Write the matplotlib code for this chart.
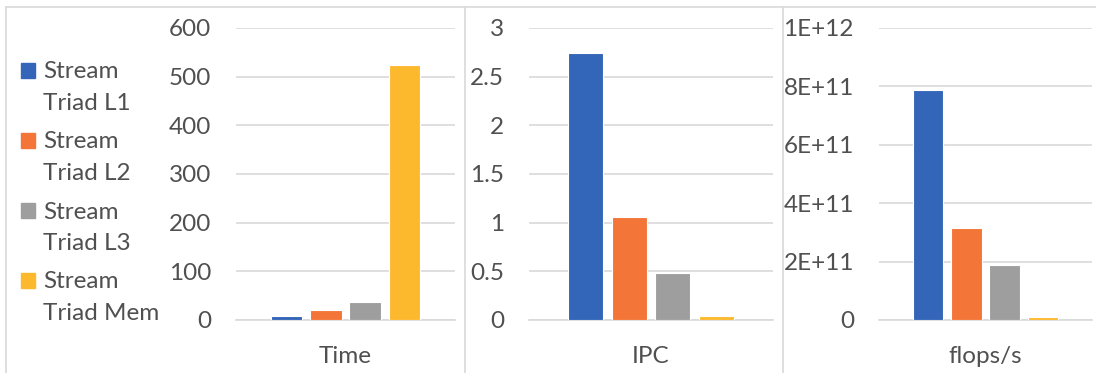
import matplotlib
matplotlib.use("Agg")
import matplotlib.pyplot as plt
from matplotlib.patches import Rectangle
from matplotlib.lines import Line2D
from matplotlib.ticker import FuncFormatter, MultipleLocator

# benchmark results, one value per series in each panel
series = ["Stream Triad L1", "Stream Triad L2", "Stream Triad L3", "Stream Triad Mem"]
colors = ["#3366B8", "#F37538", "#9E9E9E", "#FDB92E"]

time_vals = [8, 20, 37, 523]
ipc_vals = [2.74, 1.06, 0.486, 0.044]
flops_vals = [7.88e11, 3.14e11, 1.87e11, 1.1e10]

metrics = ["Time", "IPC", "flops/s"]

plt.rcParams["font.family"] = ["Lato", "DejaVu Sans"]
TXT = "#505050"
GRID = "#D9D9D9"
FS = 17.5

W, H = 1096, 373
fig = plt.figure(figsize=(W / 100, H / 100), dpi=100)


def px(x0, y0, x1, y1):
    # pixel box (top-left origin) -> figure fraction rect
    return [x0 / W, 1 - y1 / H, (x1 - x0) / W, (y1 - y0) / H]


panels = [
    (px(236, 28, 455, 320), time_vals, 600, 100, lambda v, p: f"{v:.0f}"),
    (px(529, 28, 773, 320), ipc_vals, 3, 0.5, lambda v, p: f"{v:g}"),
    (px(879, 28, 1092, 320), flops_vals, 1e12, 2e11,
     lambda v, p: "0" if v == 0 else f"{v:.0E}"),
]

for (rect, vals, top, step, fmt), name in zip(panels, metrics):
    ax = fig.add_axes(rect)
    ax.bar(range(len(vals)), vals, width=0.8, color=colors,
           edgecolor="white", linewidth=0.8, zorder=3)
    ax.set_xlim(-1.28, 4.28)
    ax.set_ylim(0, top)
    ax.yaxis.set_major_locator(MultipleLocator(step))
    ax.yaxis.set_major_formatter(FuncFormatter(fmt))
    ax.grid(axis="y", color=GRID, linewidth=1.2, zorder=0)
    for s in ["top", "right", "left"]:
        ax.spines[s].set_visible(False)
    ax.spines["bottom"].set_color(GRID)
    ax.spines["bottom"].set_linewidth(1.2)
    ax.set_xticks([1.5])
    ax.set_xticklabels([name])
    ax.tick_params(axis="x", length=0, pad=18.5, labelsize=FS, labelcolor=TXT)
    ax.tick_params(axis="y", length=0, pad=18, labelsize=FS, labelcolor=TXT)

# legend on the left, names wrapped onto two lines
for i, (label, c) in enumerate(zip(series, colors)):
    y = 70 + i * 70
    fig.patches.append(Rectangle((21 / W, 1 - (y + 8) / H), 14 / W, 15 / H,
                                 transform=fig.transFigure, color=c))
    first, second = label.split(" ", 1)
    fig.text(43 / W, 1 - (y + 2) / H, first, va="center", ha="left",
             fontsize=FS, color=TXT)
    fig.text(43 / W, 1 - (y + 34) / H, second, va="center", ha="left",
             fontsize=FS, color=TXT)

# chart frames
frame = [((6, 1096), (7, 7)), ((6, 6), (7, 373)),
         ((465, 465), (7, 373)), ((783, 783), (7, 373))]
for xs, ys in frame:
    fig.lines.append(Line2D([x / W for x in xs], [1 - y / H for y in ys],
                            transform=fig.transFigure, color=GRID, linewidth=1.2))

fig.savefig("out.png", dpi=100)
